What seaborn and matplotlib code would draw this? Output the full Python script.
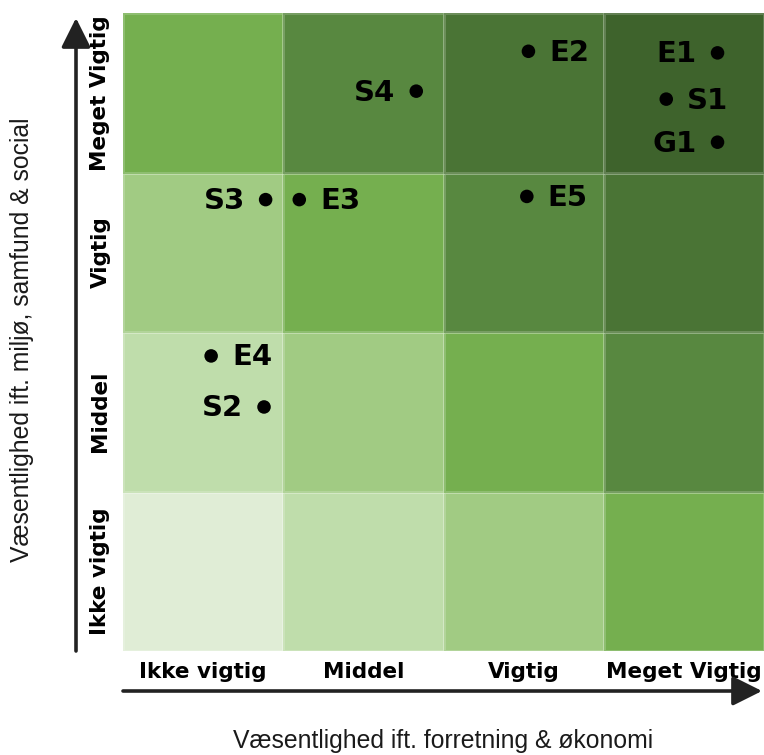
import numpy as np
import pandas as pd
import matplotlib
matplotlib.use("Agg")
import matplotlib.pyplot as plt
from matplotlib.colors import ListedColormap
import seaborn as sns

# ---- data ----
levels = ["Ikke vigtig", "Middel", "Vigtig", "Meget Vigtig"]
labels = ["E1", "E2", "E3", "E4", "E5", "S1", "S2", "S3", "S4", "G1"]
x_vals = [3.71, 2.53, 1.10, 0.55, 2.52, 3.39, 0.88, 0.89, 1.83, 3.71]
y_vals = [3.75, 3.76, 2.83, 1.85, 2.85, 3.46, 1.53, 2.83, 3.51, 3.19]
label_side = ["left", "right", "right", "right", "right", "right", "left", "left", "left", "left"]
cell_colors = ["#E0EDD6", "#BFDDAB", "#A1CB83", "#75AF4F", "#588840", "#4A7435", "#3E632C"]

x_title = "Væsentlighed ift. forretning & økonomi"
y_title = "Væsentlighed ift. miljø, samfund & social"

# grid: row index = y level (bottom to top), col index = x level
grid = np.add.outer(np.arange(len(levels)), np.arange(len(levels)))
grid_df = pd.DataFrame(grid, index=levels, columns=levels)

W, H = 764, 755
fig = plt.figure(figsize=(W / 100, H / 100), dpi=100)
ax = fig.add_axes([123 / W, (H - 651) / H, 641 / W, 638 / H])

cmap = ListedColormap(cell_colors)
sns.heatmap(grid_df, ax=ax, cmap=cmap, vmin=-0.5, vmax=6.5, cbar=False,
            linewidths=1, linecolor="#ffffff30", square=False)
ax.invert_yaxis()

pts = pd.DataFrame({"x": x_vals, "y": y_vals, "label": labels, "side": label_side})
sns.scatterplot(data=pts, x="x", y="y", ax=ax, color="black", s=95,
                edgecolor="none", zorder=5, legend=False)
for _, r in pts.iterrows():
    off = 15 if r["side"] == "right" else -15
    ax.annotate(r["label"], (r["x"], r["y"]), xytext=(off, -1), textcoords="offset points",
                ha="left" if r["side"] == "right" else "right", va="center",
                fontsize=21, fontweight="bold", color="black", zorder=6)

ax.set_xlim(0, 4)
ax.set_ylim(0, 4)
ax.set_xlabel("")
ax.set_ylabel("")
ax.set_xticks(np.arange(4) + 0.5)
ax.set_xticklabels(levels, fontsize=15.5, fontweight="bold", rotation=0)
ax.set_yticks(np.arange(4) + 0.5)
ax.set_yticklabels(levels, fontsize=15.5, fontweight="bold", rotation=90, va="center")
ax.tick_params(axis="both", length=0)
ax.tick_params(axis="x", pad=8)
ax.tick_params(axis="y", pad=9)
for s in ax.spines.values():
    s.set_visible(False)

# arrows
ap = dict(arrowstyle="-|>,head_length=0.9,head_width=0.45", color="#222222", lw=2.6,
          shrinkA=0, shrinkB=0, mutation_scale=20)
fig.add_artist(matplotlib.patches.FancyArrowPatch((76 / W, 1 - 651 / H), (76 / W, 1 - 18 / H),
                                                   transform=fig.transFigure, **ap))
fig.add_artist(matplotlib.patches.FancyArrowPatch((123 / W, 1 - 691 / H), (762 / W, 1 - 691 / H),
                                                   transform=fig.transFigure, **ap))

fig.text(443 / W, 1 - 741 / H, x_title, ha="center", va="center", fontsize=17.8,
         color="#1a1a1a", family="Liberation Sans")
fig.text(22 / W, 1 - 340 / H, y_title, ha="center", va="center", rotation=90,
         fontsize=17.8, color="#1a1a1a", family="Liberation Sans")

fig.savefig("out.png", dpi=100)
